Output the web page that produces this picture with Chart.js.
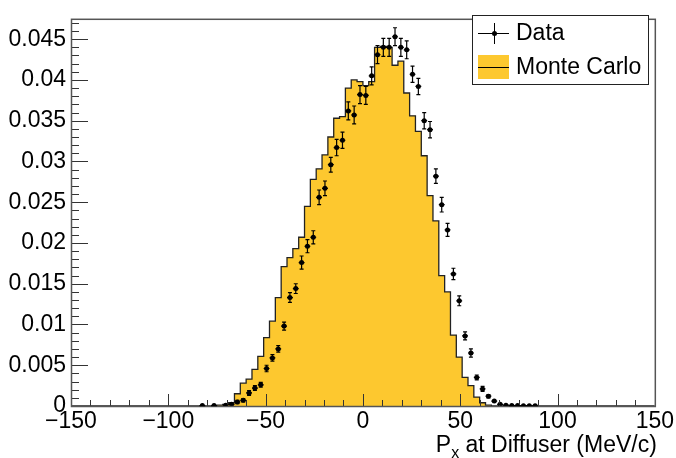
<!DOCTYPE html>
<html>
<head>
<meta charset="utf-8">
<script src="https://cdn.jsdelivr.net/npm/chart.js@4/dist/chart.umd.min.js"></script>
<style>
html, body { margin:0; padding:0; background:#fff; }
</style>
</head>
<body>
<canvas id="chart" width="676" height="458"></canvas>
<script>
// Monte Carlo histogram, 3 MeV/c bins, first bin starts at -78
var binStart = -78, binWidth = 3;
var mcValues = [0, 0.0001, 0.0002, 0.0004, 0.0015, 0.0028, 0.0033, 0.0045, 0.0061, 0.0084,
    0.0104, 0.0133, 0.0171, 0.0182, 0.0193, 0.0207, 0.0245, 0.0278, 0.0291, 0.0308,
    0.0330, 0.0353, 0.0355, 0.0390, 0.0400, 0.0398, 0.0393, 0.0398, 0.0440, 0.0441,
    0.0440, 0.0418, 0.0423, 0.0384, 0.0356, 0.0337, 0.0307, 0.0258, 0.0227, 0.0160,
    0.0140, 0.0087, 0.0060, 0.0035, 0.0025, 0.0011, 0.0004, 0.0001];

// Data points (bin centres), values and errors
var dataX = [-82.5, -76.5, -70.5, -67.5, -64.5, -61.5, -58.5, -55.5, -52.5, -49.5,
    -46.5, -43.5, -40.5, -37.5, -34.5, -31.5, -28.5, -25.5, -22.5, -19.5,
    -16.5, -13.5, -10.5, -7.5, -4.5, -1.5, 1.5, 4.5, 7.5, 10.5,
    13.5, 16.5, 19.5, 22.5, 25.5, 28.5, 31.5, 34.5, 37.5, 40.5,
    43.5, 46.5, 49.5, 52.5, 55.5, 58.5, 61.5, 64.5, 67.5, 70.5,
    73.5, 76.5, 79.5, 82.5, 85.5, 88.5];
var dataY = [0.00005, 0.00005, 0.0001, 0.0002, 0.0005, 0.0007, 0.0016, 0.0022, 0.0026, 0.0046,
    0.0059, 0.0070, 0.0098, 0.0133, 0.0144, 0.0176, 0.0196, 0.0207, 0.0256, 0.0267,
    0.0296, 0.0317, 0.0326, 0.0362, 0.0357, 0.0382, 0.0381, 0.0405, 0.0431, 0.0440,
    0.0440, 0.0453, 0.0440, 0.0437, 0.0407, 0.0392, 0.0350, 0.0339, 0.0282, 0.0247,
    0.0216, 0.0162, 0.0129, 0.0086, 0.0065, 0.0035, 0.0021, 0.0012, 0.0006, 0.0002,
    0.0001, 0.00005, 0.00005, 0.00004, 0.00004, 0.00003];
var dataErr = [0.00005, 0.00005, 0.0001, 0.0001, 0.0002, 0.0002, 0.0003, 0.0003, 0.0003, 0.0004,
    0.0004, 0.0004, 0.0005, 0.0006, 0.0006, 0.0008, 0.0008, 0.0008, 0.0009, 0.0009,
    0.0009, 0.0010, 0.0010, 0.0011, 0.0011, 0.0011, 0.0011, 0.0011, 0.0011, 0.0011,
    0.0011, 0.0011, 0.0011, 0.0011, 0.0010, 0.0010, 0.0010, 0.0010, 0.0009, 0.0009,
    0.0008, 0.0007, 0.0006, 0.0005, 0.0005, 0.0003, 0.0003, 0.0002, 0.0001, 0.0001,
    0.0001, 0.00005, 0.00005, 0.00004, 0.00004, 0.00003];

var xTicks = [-150, -100, -50, 0, 50, 100, 150];
var yTicks = [0, 0.005, 0.01, 0.015, 0.02, 0.025, 0.03, 0.035, 0.04, 0.045];
var xTitle = ["P", "x", " at Diffuser (MeV/c)"];
var legendLabels = ["Data", "Monte Carlo"];

var mcColor = "#fdc82f";
var fontName = "'Liberation Sans', Arial, sans-serif";

function buildMC(){
    var pts = [];
    for (var lo = -150; lo < 150; lo += binWidth){
        var k = Math.round((lo - binStart) / binWidth);
        var v = (k >= 0 && k < mcValues.length) ? mcValues[k] : 0;
        pts.push({x: lo, y: v});
    }
    pts.push({x: 150, y: 0});
    return pts;
}

function buildData(){
    var pts = [];
    dataX.forEach(function(x, i){
        pts.push({x: x, y: dataY[i], err: dataErr[i]});
    });
    return pts;
}

// ROOT style frame with inward ticks
var rootFrame = {
    id: 'rootFrame',
    afterDatasetsDraw: function(chart){
        var ctx = chart.ctx, a = chart.chartArea;
        var xs = chart.scales.x, ys = chart.scales.y;
        ctx.save();
        ctx.strokeStyle = "#333";
        ctx.lineWidth = 1;
        ctx.beginPath();
        for (var v = -150; v <= 150; v += 10){
            var px = Math.round(xs.getPixelForValue(v)) + 0.5;
            var len = (v % 50 === 0) ? 12 : 6;
            ctx.moveTo(px, a.bottom);
            ctx.lineTo(px, a.bottom - len);
        }
        for (var k = 0; k <= 47; k++){
            var py = Math.round(ys.getPixelForValue(k * 0.001)) + 0.5;
            var l2 = (k % 5 === 0) ? 17 : 8;
            ctx.moveTo(a.left, py);
            ctx.lineTo(a.left + l2, py);
        }
        ctx.stroke();
        ctx.strokeStyle = "#555";
        ctx.lineWidth = 1.5;
        ctx.strokeRect(a.left + 0.5, a.top + 0.5, a.right - a.left, a.bottom - a.top);
        ctx.restore();
    }
};

// error bars for the data points
var errorBars = {
    id: 'errorBars',
    afterDatasetsDraw: function(chart){
        var ctx = chart.ctx;
        var xs = chart.scales.x, ys = chart.scales.y;
        var pts = chart.data.datasets[0].data;
        ctx.save();
        ctx.strokeStyle = "#000";
        ctx.lineWidth = 1.2;
        ctx.beginPath();
        pts.forEach(function(p){
            var px = xs.getPixelForValue(p.x);
            var x0 = xs.getPixelForValue(p.x - binWidth / 2);
            var x1 = xs.getPixelForValue(p.x + binWidth / 2);
            var py = ys.getPixelForValue(p.y);
            var y0 = ys.getPixelForValue(p.y - p.err);
            var y1 = ys.getPixelForValue(p.y + p.err);
            ctx.moveTo(x0, py); ctx.lineTo(x1, py);
            ctx.moveTo(px, y0); ctx.lineTo(px, y1);
            if (y0 - y1 > 3){
                ctx.moveTo(px - 2, y0); ctx.lineTo(px + 2, y0);
                ctx.moveTo(px - 2, y1); ctx.lineTo(px + 2, y1);
            }
        });
        ctx.stroke();
        ctx.restore();
    }
};

// legend box and x axis title
var extras = {
    id: 'extras',
    afterDraw: function(chart){
        var ctx = chart.ctx, a = chart.chartArea;
        ctx.save();
        // legend
        ctx.fillStyle = "#fff";
        ctx.fillRect(472, 15, 176, 69);
        ctx.strokeStyle = "#222";
        ctx.lineWidth = 1;
        ctx.strokeRect(472.5, 15.5, 176, 69);
        ctx.strokeStyle = "#000";
        ctx.beginPath();
        ctx.moveTo(478, 33.5); ctx.lineTo(509, 33.5);
        ctx.moveTo(494.5, 23); ctx.lineTo(494.5, 44);
        ctx.stroke();
        ctx.fillStyle = "#000";
        ctx.beginPath();
        ctx.arc(494.5, 33.5, 2.5, 0, Math.PI * 2);
        ctx.fill();
        ctx.fillStyle = mcColor;
        ctx.fillRect(478, 55, 31, 24);
        ctx.beginPath();
        ctx.moveTo(478, 67.5); ctx.lineTo(509, 67.5);
        ctx.stroke();
        ctx.fillStyle = "#000";
        ctx.font = "23px " + fontName;
        ctx.textBaseline = "middle";
        ctx.textAlign = "left";
        ctx.fillText(legendLabels[0], 516, 34);
        ctx.fillText(legendLabels[1], 516, 68);

        // axis title with subscript
        ctx.textBaseline = "alphabetic";
        var big = "23px " + fontName;
        var small = "16px " + fontName;
        ctx.font = big;
        var w0 = ctx.measureText(xTitle[0]).width;
        var w2 = ctx.measureText(xTitle[2]).width;
        ctx.font = small;
        var w1 = ctx.measureText(xTitle[1]).width;
        var x = a.right + 2 - (w0 + w1 + w2);
        var base = 452;
        ctx.font = big;
        ctx.fillText(xTitle[0], x, base);
        ctx.font = small;
        ctx.fillText(xTitle[1], x + w0, base + 6);
        ctx.font = big;
        ctx.fillText(xTitle[2], x + w0 + w1, base);
        ctx.restore();
    }
};

Chart.defaults.font.family = fontName;
Chart.defaults.font.size = 23;
Chart.defaults.color = "#000";

var ctx = document.getElementById("chart").getContext("2d");
var chart = new Chart(ctx, {
    type: 'line',
    data: {
        datasets: [
            {
                type: 'scatter',
                label: legendLabels[0],
                data: buildData(),
                pointRadius: 2.5,
                pointBackgroundColor: "#000",
                pointBorderColor: "#000",
                pointBorderWidth: 0,
                showLine: false,
                order: 0
            },
            {
                type: 'line',
                label: legendLabels[1],
                data: buildMC(),
                stepped: 'before',
                fill: 'origin',
                backgroundColor: mcColor,
                borderColor: "#222",
                borderWidth: 1.3,
                pointRadius: 0,
                tension: 0,
                order: 1
            }
        ]
    },
    options: {
        responsive: false,
        animation: false,
        layout: { padding: { top: 10, right: 20, left: 0, bottom: 0 } },
        plugins: {
            legend: { display: false },
            tooltip: { enabled: false }
        },
        scales: {
            x: {
                type: 'linear',
                min: -150,
                max: 150,
                grid: { display: false, drawTicks: false },
                border: { display: false },
                afterFit: function(s){ s.height = 52; },
                afterBuildTicks: function(s){
                    s.ticks = xTicks.map(function(v){ return {value: v}; });
                },
                ticks: {
                    autoSkip: false,
                    maxRotation: 0,
                    padding: 2,
                    callback: function(v){ return v < 0 ? "\u2212" + Math.abs(v) : String(v); }
                }
            },
            y: {
                type: 'linear',
                min: 0,
                max: 0.0475,
                grid: { display: false, drawTicks: false },
                border: { display: false },
                afterFit: function(s){ s.width = 71; },
                afterBuildTicks: function(s){
                    s.ticks = yTicks.map(function(v){ return {value: v}; });
                },
                ticks: {
                    padding: 5,
                    callback: function(v){ return String(parseFloat(v.toFixed(4))); }
                }
            }
        }
    },
    plugins: [rootFrame, errorBars, extras]
});
</script>
</body>
</html>
